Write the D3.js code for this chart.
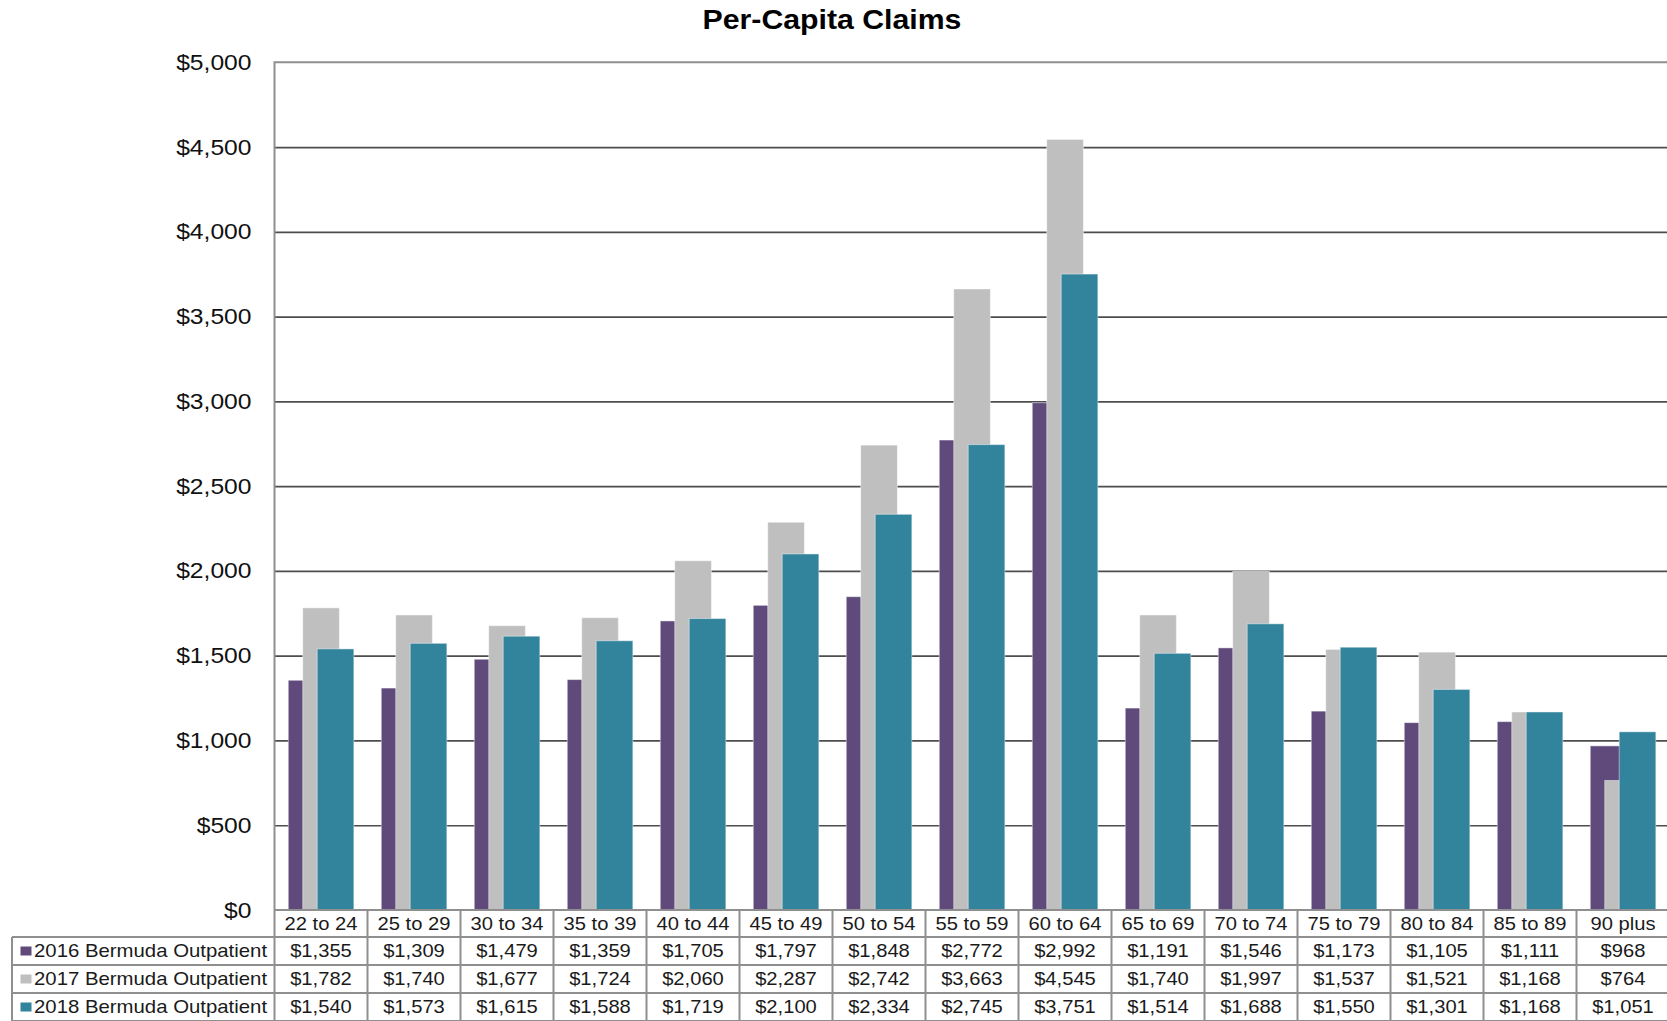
<!DOCTYPE html>
<html>
<head>
<meta charset="utf-8">
<script src="https://cdn.jsdelivr.net/npm/d3@7/dist/d3.min.js"></script>
<style>
    body { margin: 0; background: #fff; }
    svg { display: block; font-family: "Liberation Sans", Arial, sans-serif; }
    .grid line { stroke: #4d4d4d; stroke-width: 1.7px; }
    .grid path { display: none; }
    .yaxis path { display: none; }
    .yaxis text { font-size: 22px; fill: #111; }
    .cell { font-size: 18.5px; fill: #1a1a1a; }
    .border { stroke: #8f8f8f; stroke-width: 2px; fill: none; }
</style>
</head>
<body>
<script>
// age bands along the bottom
var categories = ["22 to 24", "25 to 29", "30 to 34", "35 to 39", "40 to 44", "45 to 49", "50 to 54",
    "55 to 59", "60 to 64", "65 to 69", "70 to 74", "75 to 79", "80 to 84", "85 to 89", "90 plus"];

// series values
var v2016 = [1355, 1309, 1479, 1359, 1705, 1797, 1848, 2772, 2992, 1191, 1546, 1173, 1105, 1111, 968];
var v2017 = [1782, 1740, 1677, 1724, 2060, 2287, 2742, 3663, 4545, 1740, 1997, 1537, 1521, 1168, 764];
var v2018 = [1540, 1573, 1615, 1588, 1719, 2100, 2334, 2745, 3751, 1514, 1688, 1550, 1301, 1168, 1051];

var seriesNames = ["2016 Bermuda Outpatient", "2017 Bermuda Outpatient", "2018 Bermuda Outpatient"];
var seriesValues = [v2016, v2017, v2018];
var colors = ["#5f4a7b", "#bfbfbf", "#31849b"];

var yTicks = [0, 500, 1000, 1500, 2000, 2500, 3000, 3500, 4000, 4500, 5000];

var width = 1667, height = 1021;
var plotLeft = 274.5, plotTop = 62.3, plotBottom = 910;
var bandW = 93.0;
var rowH = 28;
var tableLeft = 12;

var svg = d3.select("body").append("svg")
    .attr("width", width)
    .attr("height", height);

var x = d3.scaleBand()
    .domain(categories)
    .range([plotLeft, plotLeft + bandW * categories.length])
    .padding(0);

var y = d3.scaleLinear()
    .domain([0, 5000])
    .range([plotBottom, plotTop]);

// stretch text a little wider, the original is drawn slightly wide
function widen(sel, k) {
    sel.each(function() {
        var w = this.getComputedTextLength();
        d3.select(this).attr("textLength", w * k).attr("lengthAdjust", "spacingAndGlyphs");
    });
}

// title
svg.append("text")
    .attr("x", 832)
    .attr("y", 29)
    .attr("text-anchor", "middle")
    .style("font-size", "27px")
    .style("font-weight", "bold")
    .style("fill", "#000")
    .text("Per-Capita Claims")
    .call(widen, 1.12);

// gridlines
svg.append("g")
    .attr("class", "grid")
    .attr("transform", "translate(" + plotLeft + ",0)")
    .call(d3.axisLeft(y).tickValues(yTicks.slice(1, -1)).tickSize(-(x.range()[1] - plotLeft)).tickFormat(""));

// y axis labels
var yAxis = svg.append("g")
    .attr("class", "yaxis")
    .attr("transform", "translate(" + plotLeft + ",0)")
    .call(d3.axisLeft(y).tickValues(yTicks).tickSize(0).tickPadding(23)
        .tickFormat(function(d) { return "$" + d3.format(",")(d); }));
yAxis.selectAll("text").call(widen, 1.12);

// bars: 2016 first, 2018 on top
var barW = bandW * 0.394, step = bandW * 0.1556, lead = bandW * 0.148;
seriesValues.forEach(function(vals, s) {
    svg.append("g").selectAll("rect")
        .data(vals)
        .enter().append("rect")
        .attr("x", function(d, i) { return x(categories[i]) + lead + s * step; })
        .attr("y", function(d) { return y(d); })
        .attr("width", barW)
        .attr("height", function(d) { return y(0) - y(d); })
        .style("fill", colors[s])
        .style("stroke", "rgba(255,255,255,0.45)")
        .style("stroke-width", 1);
});

// plot border (left + top)
var right = x.range()[1];
svg.append("path").attr("class", "border")
    .attr("d", "M" + plotLeft + "," + height + "V" + plotTop + "H" + right + "V" + plotBottom);

// data table
var rowsTop = plotBottom + rowH - 1;
svg.append("line").attr("class", "border")
    .attr("x1", plotLeft).attr("x2", right).attr("y1", plotBottom).attr("y2", plotBottom);
for (var r = 0; r < 4; r++) {
    svg.append("line").attr("class", "border")
        .attr("x1", tableLeft).attr("x2", right)
        .attr("y1", rowsTop + r * rowH).attr("y2", rowsTop + r * rowH);
}
svg.append("line").attr("class", "border")
    .attr("x1", tableLeft).attr("x2", tableLeft).attr("y1", rowsTop).attr("y2", height);
categories.forEach(function(c) {
    svg.append("line").attr("class", "border")
        .attr("x1", x(c) + bandW).attr("x2", x(c) + bandW).attr("y1", plotBottom).attr("y2", height);
});

// category header row
svg.append("g").selectAll("text")
    .data(categories)
    .enter().append("text")
    .attr("class", "cell")
    .attr("x", function(d) { return x(d) + bandW / 2; })
    .attr("y", (plotBottom + rowsTop) / 2)
    .attr("dy", "0.35em")
    .attr("text-anchor", "middle")
    .text(function(d) { return d; })
    .call(widen, 1.09);

// series rows
seriesValues.forEach(function(vals, s) {
    var cy = rowsTop + s * rowH + rowH / 2;
    svg.append("rect")
        .attr("x", 20.5).attr("y", cy - 4.5)
        .attr("width", 11).attr("height", 9)
        .style("fill", colors[s]);
    svg.append("text")
        .attr("class", "cell")
        .attr("x", 34)
        .attr("y", cy)
        .attr("dy", "0.35em")
        .text(seriesNames[s])
        .call(widen, 1.1);
    svg.append("g").selectAll("text")
        .data(vals)
        .enter().append("text")
        .attr("class", "cell")
        .attr("x", function(d, i) { return x(categories[i]) + bandW / 2; })
        .attr("y", cy)
        .attr("dy", "0.35em")
        .attr("text-anchor", "middle")
        .text(function(d) { return "$" + d3.format(",")(d); })
        .call(widen, 1.09);
});
</script>
</body>
</html>
